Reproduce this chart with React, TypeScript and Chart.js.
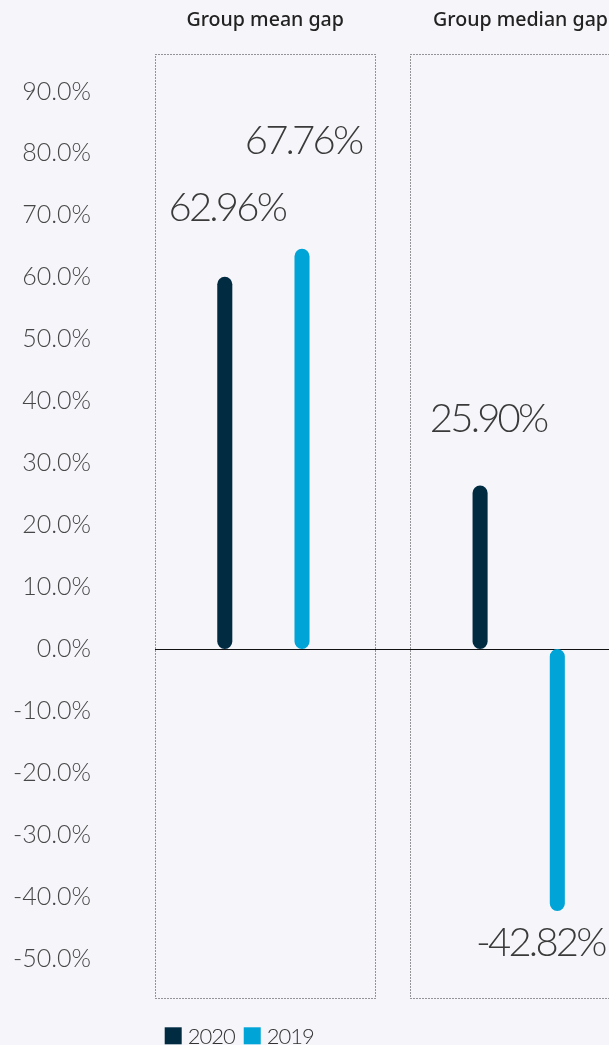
import React, { useEffect, useRef } from "react";
import { Chart, registerables } from "chart.js";

Chart.register(...registerables);

// ---- data ----
const CATEGORIES = ["Group mean gap", "Group median gap"];
const SERIES_NAMES = ["2020", "2019"];
const VALUES_2020 = [60.1, 26.4];
const VALUES_2019 = [64.6, -42.3];
const LABELS_2020 = ["62.96%", "25.90%"];
const LABELS_2019 = ["67.76%", "-42.82%"];
const Y_TICKS = [-50, -40, -30, -20, -10, 0, 10, 20, 30, 40, 50, 60, 70, 80, 90];
const Y_MIN = -56.3;
const Y_MAX = 96;

// ---- style ----
const COLORS = ["#002b40", "#00a4d6"];
const BG = "#f5f5fa";
const LABEL_OFFSETS = [
  [[2, -69], [8, -66]],
  [[1, -108], [-17, 32]],
];

const overlayPlugin = {
  id: "overlay",
  beforeDatasetsDraw(chart: any) {
    const { ctx, chartArea, scales } = chart;
    const x = scales.x;
    const y = scales.y;
    ctx.save();
    // dotted boxes
    ctx.strokeStyle = "#333";
    ctx.lineWidth = 1;
    ctx.setLineDash([1, 2]);
    CATEGORIES.forEach((_, i) => {
      const c = x.getPixelForValue(i) + 1.6;
      const l = Math.round(c - 110) + 0.5;
      const r = Math.round(c + 110) + 0.5;
      const t = Math.round(chartArea.top) + 0.5;
      const b = Math.round(chartArea.bottom) + 0.5;
      ctx.strokeRect(l, t, r - l, b - t);
    });
    ctx.setLineDash([]);
    // zero line
    const zy = Math.round(y.getPixelForValue(0)) + 0.5;
    const startX = Math.round(x.getPixelForValue(0) + 1.6 - 110);
    ctx.strokeStyle = "#111";
    ctx.beginPath();
    ctx.moveTo(startX, zy);
    ctx.lineTo(chart.width, zy);
    ctx.stroke();
    ctx.restore();
  },
  afterDraw(chart: any) {
    const { ctx, scales } = chart;
    const x = scales.x;
    ctx.save();
    // headers
    ctx.fillStyle = "#222";
    ctx.font = "500 19.6px 'Noto Sans'";
    ctx.textAlign = "center";
    ctx.textBaseline = "alphabetic";
    CATEGORIES.forEach((cat, i) => {
      ctx.fillText(cat, x.getPixelForValue(i) + 1.8, 25.7);
    });
    // value labels
    const labels = [LABELS_2020, LABELS_2019];
    ctx.font = "300 40px Lato";
    (ctx as any).letterSpacing = "-2.8px";
    ctx.fillStyle = "#3a3a3a";
    ctx.textBaseline = "middle";
    labels.forEach((arr, d) => {
      const meta = chart.getDatasetMeta(d);
      arr.forEach((txt, j) => {
        const el = meta.data[j];
        const [dx, dy] = LABEL_OFFSETS[d][j];
        ctx.fillText(txt, el.x + dx, el.y + dy);
      });
    });
    // legend
    (ctx as any).letterSpacing = "-1px";
    ctx.font = "300 22px Lato";
    ctx.textAlign = "left";
    ctx.textBaseline = "alphabetic";
    let lx = 164.7;
    const ly = 1027.3;
    SERIES_NAMES.forEach((name, i) => {
      ctx.fillStyle = COLORS[i];
      ctx.fillRect(lx, ly, 17, 17);
      ctx.fillStyle = "#333";
      ctx.fillText(name, lx + 23, ly + 17);
      lx = lx + 23 + ctx.measureText(name).width + 9;
    });
    ctx.restore();
  },
};

export default function App() {
  const ref = useRef<HTMLCanvasElement | null>(null);
  useEffect(() => {
    if (!ref.current) return;
    const chart = new Chart(ref.current, {
      type: "bar",
      data: {
        labels: CATEGORIES,
        datasets: [
          {
            label: SERIES_NAMES[0],
            data: VALUES_2020,
            backgroundColor: COLORS[0],
            borderRadius: 8,
            borderSkipped: false,
          },
          {
            label: SERIES_NAMES[1],
            data: VALUES_2019,
            backgroundColor: COLORS[1],
            borderRadius: 8,
            borderSkipped: false,
          },
        ],
      },
      options: {
        animation: false,
        responsive: false,
        devicePixelRatio: 1,
        categoryPercentage: 0.605,
        barPercentage: 0.195,
        layout: { padding: { top: 54.3, bottom: 47.3, left: 0, right: 13.65 } },
        plugins: { legend: { display: false }, tooltip: { enabled: false } },
        scales: {
          x: { display: false },
          y: {
            min: Y_MIN,
            max: Y_MAX,
            grid: { display: false, drawTicks: false },
            border: { display: false },
            afterBuildTicks: (scale: any) => {
              scale.ticks = Y_TICKS.map((v) => ({ value: v }));
            },
            afterFit: (scale: any) => {
              scale.width = 135.75;
              scale.paddingTop = 0;
              scale.paddingBottom = 0;
            },
            ticks: {
              padding: 44.75,
              color: "#474747",
              font: { family: "Lato", size: 25, weight: "300" },
              callback: (v: any) => Number(v).toFixed(1) + "%",
            },
          },
        },
      } as any,
      plugins: [overlayPlugin],
    });
    return () => chart.destroy();
  }, []);
  return (
    <div
      style={{
        position: "fixed",
        left: 0,
        top: 0,
        width: 609,
        height: 1045,
        overflow: "hidden",
        background: BG,
      }}
    >
      <canvas ref={ref} width={660} height={1045} style={{ display: "block" }} />
    </div>
  );
}
